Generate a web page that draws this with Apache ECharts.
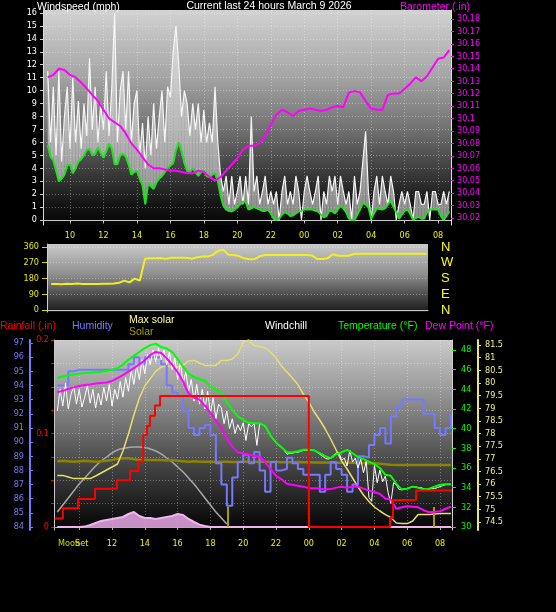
<!DOCTYPE html>
<html><head><meta charset="utf-8">
<script src="https://cdn.jsdelivr.net/npm/echarts@6/dist/echarts.min.js"></script>
<style>html,body{margin:0;padding:0;background:#000;}#c{width:556px;height:612px;}</style>
</head><body><div id="c"></div>
<script>
// ================= DATA =================
// time unit: hours since 00:00 of March 8 (values above 24 are March 9)
const titleText = 'Current last 24 hours March 9 2026';
const seriesStartHour = 8 + 40 / 60;      // first sample 08:40

// windspeed, 10-minute samples (mph)
const windGust = [
 11.5,6.0,10.3,5.0,11.5,4.5, 8.0,10.3,5.5,11.0,6.0,9.2, 5.5,9.0,6.5,12.5,7.0,10.3,
 6.0,9.0,7.0,11.5,6.5,10.3, 16.0,6.0,10.0,11.5,7.0,11.5, 6.0,9.0,10.0,5.0,7.5,4.0,
 8.0,5.0,9.0,5.5,8.0,10.0, 6.0,10.3,9.5,13.0,15.0,12.0, 8.0,10.0,9.0,6.5,9.0,7.0,
 9.0,6.0,8.5,6.0,7.5,6.0, 10.3,6.0,3.4,2.2,3.4,1.2, 3.4,1.2,2.2,3.4,1.2,3.4,
 1.2,8.0,2.2,3.4,1.2,2.2, 3.4,1.2,2.2,1.2,2.2,0, 2.2,3.4,1.2,2.2,1.2,3.4,
 2.2,0,2.2,3.4,2.2,1.2, 2.2,3.4,0,2.2,1.2,3.4, 2.2,3.4,1.2,3.4,2.2,1.2,
 2.2,0,3.4,1.2,2.2,4.5, 6.85,2.2,0,2.2,3.4,1.2, 3.4,2.2,1.2,3.4,2.2,0,
 1.2,2.2,1.2,2.2,1.2,0, 2.2,2.2,1.2,1.2,2.2,0, 2.2,2.2,1.2,1.2,2.2,1.2,
 2.2];
const windAvg = [
 5.8,4.9,4.6,3.8,3.0,3.2, 3.5,4.2,4.3,3.6,4.0,4.5, 4.7,5.0,5.4,5.5,5.0,5.1,
 5.6,5.2,4.8,5.3,5.9,5.5, 4.3,4.3,5.0,5.1,4.9,4.3, 3.5,3.7,3.8,3.2,2.7,1.2,
 2.8,2.6,2.4,2.9,3.2,3.4, 3.7,4.0,4.2,4.4,5.4,6.0, 5.3,4.4,3.8,3.7,4.0,3.7,
 3.4,3.7,3.8,3.4,3.3,3.5, 3.6,3.0,1.9,1.1,0.8,0.7, 0.65,0.8,1.0,1.2,1.4,1.4,
 0.8,0.9,1.0,0.9,0.8,0.7, 0.7,0.8,0.5,0.1,0.0,0.1, 0.4,0.6,0.5,0.3,0.35,0.5,
 0.65,0.7,0.8,0.8,0.8,0.8, 0.7,0.65,0.4,0.2,0.3,0.7, 0.7,0.5,0.8,1.1,0.9,0.6,
 0.1,0.0,0.0,0.4,0.8,1.3, 1.2,1.0,0.1,0.5,0.9,0.85, 0.8,0.9,1.2,1.5,1.0,0.6,
 0.1,0.4,0.7,0.8,0.5,0.0, 0.15,0.25,0.1,0.1,0.6,0.8, 0.8,0.8,0.8,0.3,0.0,0.3,
 0.65];
// barometer, 20-minute samples (inHg)
const barometer = [
 30.133,30.135,30.140,30.139,30.135,30.133,30.129,30.124,30.119,30.114,30.107,30.100,
 30.097,30.094,30.088,30.080,30.075,30.069,30.063,30.060,30.060,30.059,30.058,30.058,
 30.057,30.056,30.056,30.058,30.057,30.053,30.050,30.053,30.058,30.063,30.068,30.075,
 30.078,30.078,30.080,30.086,30.095,30.103,30.107,30.105,30.102,30.106,30.107,30.108,
 30.107,30.106,30.107,30.109,30.110,30.109,30.121,30.122,30.121,30.114,30.108,30.107,
 30.107,30.119,30.120,30.120,30.124,30.128,30.133,30.130,30.134,30.141,30.148,30.149,
 30.155];
// wind direction, 20-minute samples (degrees)
const windDir = [
 149,149,147,150,149,152,148,149,149,149,150,150,152,155,168,158,179,168,
 293,295,295,297,292,299,299,299,299,293,302,305,305,315,338,345,316,314,308,295,290,291,
 307,314,314,314,314,314,314,314,314,314,312,291,291,295,318,310,310,310,320,
 322,322,322,322,322,322,322,322,322,322,322,322,322,322];
// 20-minute samples for the lower panel
const temperature = [
 45.15,45.3,45.4,45.5,45.6,45.65,45.7,45.75,45.8,45.9,46.0,46.15,
 46.5,47.0,47.4,47.8,48.2,48.5,48.65,48.3,48.15,47.8,47.1,46.3,
 45.6,45.25,45.05,44.85,44.25,44.0,43.6,42.7,41.9,41.25,40.9,40.6,
 40.55,40.55,40.3,39.3,38.6,38.1,37.6,37.6,37.7,37.85,37.85,37.8,
 37.5,37.2,37.0,37.4,37.6,37.85,37.5,37.1,36.9,36.65,36.4,36.0,
 35.3,35.2,34.4,33.8,33.9,34.1,34.0,33.8,33.9,34.1,34.3,34.35,
 34.35];
const dewPoint = [
 43.7,43.85,44.05,44.2,44.35,44.45,44.5,44.6,44.65,44.7,44.85,45.15,
 45.45,45.8,46.15,46.55,46.95,47.5,47.8,47.7,47.15,46.5,45.75,44.8,
 43.6,43.15,42.95,42.35,41.6,40.8,40.1,39.0,38.2,37.6,37.5,37.35,
 37.25,37.15,36.6,35.9,35.2,34.85,34.4,34.3,34.2,34.1,33.95,33.95,
 33.9,33.8,33.85,34.0,34.1,34.0,34.1,34.1,33.9,33.7,33.55,33.35,
 32.9,32.8,31.85,32.0,32.1,32.05,32.0,31.7,31.5,31.55,31.6,31.85,
 32.05];
const humidity = [
 94.0,94.0,95.0,95.1,95.1,95.1,95.1,95.1,95.1,95.1,95.1,95.1,
 95.1,95.5,96.0,95.5,96.0,96.0,96.0,95.5,94.0,93.5,93.2,92.2,
 91.0,90.5,91.0,91.2,90.5,88.5,87.0,85.5,87.5,88.6,89.1,88.5,
 89.3,88.0,86.5,88.6,88.0,88.1,88.9,88.5,88.1,87.7,87.7,87.7,
 86.5,87.7,88.6,88.1,87.7,86.5,87.0,89.0,88.9,89.8,90.5,91.0,
 89.9,91.8,92.5,93.0,93.0,93.0,93.0,92.0,92.0,91.0,90.5,91.0,
 92.0];
const maxSolar = [
 258,258,250,242,242,242,242,255,270,285,300,315,
 380,465,560,645,705,742,778,800,805,800,800,808,
 830,833,820,808,808,808,833,833,840,865,925,935,
 908,903,895,875,845,805,775,745,712,665,625,575,
 535,490,440,385,330,290,245,200,160,128,100,80,
 62,48,20,17,17,30,62,62,62,65,67,67,
 67];
const solarLevel = [
 76.9,76.92,76.9,76.88,76.9,76.92,76.9,76.88,76.9,76.92,76.95,77.0,
 77.02,77.02,76.98,76.95,76.95,76.95,76.95,76.95,76.93,76.95,76.92,76.9,
 76.88,76.9,76.88,76.88,76.88,76.87,76.88,76.88,76.87,76.87,76.88,76.88,
 76.87,76.88,76.88,76.87,76.87,76.86,76.86,76.86,76.87,76.86,76.86,76.85,
 76.85,76.85,76.85,76.84,76.84,76.84,76.84,76.83,76.83,76.82,76.82,76.8,
 76.78,76.76,76.75,76.75,76.75,76.75,76.75,76.75,76.75,76.75,76.75,76.75,
 76.75];
const clearSky = [
 75,110,145,180,215,245,275,305,330,350,370,385,393,398,400,400,398,390,380,365,
 345,325,300,275,245,215,180,145,110,75,45,15];
const solarRad = [
 0,0,0,0,0,2,10,20,30,35,40,45,
 50,65,75,55,45,45,40,45,50,55,65,60,
 40,25,12,5,0,0,0,0,0,0,0,0,
 0,0,0,0,0,0,0,0,0,0,0,0,
 0,0,0,0,0,0,0,0,0,0,0,0,
 0,0,0,0,0,0,0,0,0,0,0,0,
 0];
// windchill, 10-minute samples (°F)
const windChill = [
 41.8,44.0,42.3,44.6,42.0,43.5, 44.3,42.5,44.0,42.2,43.2,44.4, 42.6,44.0,42.1,43.6,42.4,44.2,
 42.8,44.5,42.3,44.0,43.0,44.8, 43.2,45.2,43.8,46.0,44.5,46.5, 45.0,47.0,45.6,47.6,46.5,48.0,
 46.8,48.2,47.0,48.0,46.5,47.8, 46.0,47.2,45.0,46.8,44.6,45.8, 43.8,45.0,42.8,44.5,42.5,44.0,
 42.0,43.8,41.5,43.2,41.0,42.5, 42.1,40.5,41.8,40.0,41.0,39.5, 40.4,39.8,40.6,38.8,40.5,40.2,
 40.5,38.3,40.5,40.4,40.2,39.8, 39.3,38.9,38.6,38.3,38.1,37.8, 37.4,37.5,37.5,37.6,37.6,37.7,
 37.8,37.8,37.8,37.8,37.8,37.6, 37.4,37.2,37.0,36.9,37.0,37.3, 37.5,37.6,36.8,37.0,36.2,37.8,
 36.6,37.0,36.0,36.9,35.5,36.7, 33.0,32.6,36.3,34.5,35.8,34.6, 35.2,33.5,32.4,34.5,34.3,33.8,
 33.8,33.9,33.9,34.0,34.1,34.1, 34.0,34.0,33.9,33.8,33.8,33.9, 33.9,34.0,34.1,34.2,34.3,34.35,
 34.35];
// rainfall steps (hours, inches)
const rainHours  = [8.5, 9.0, 9.93, 10.96, 12.3, 13.1, 13.6, 13.9, 14.13, 14.32, 14.62, 14.93, 24.0, 28.95, 29.13, 30.54, 32.73];
const rainValues = [0.009,0.02,0.03,0.041,0.05,0.06,0.07,0.098,0.108,0.119,0.13,0.14, 0, 0.01,0.029,0.039,0.039];
const sunEvents = [19.07, 31.63];

// tick labels
const hourTicks = [10,12,14,16,18,20,22,24,26,28,30,32];
const windTicks = [0,1,2,3,4,5,6,7,8,9,10,11,12,13,14,15,16];
const baroTicks = [30.02,30.03,30.04,30.05,30.06,30.07,30.08,30.09,30.1,30.11,30.12,30.13,30.14,30.15,30.16,30.17,30.18];
const dirTicks = [0,90,180,270,360];
const dirNames = ['N','E','S','W','N'];
const humTicks = [84,85,86,87,88,89,90,91,92,93,94,95,96,97];
const rainTicks = [0,0.1,0.2];
const rainGridTicks = [0,0.025,0.05,0.075,0.1,0.125,0.15,0.175,0.2];
const tempTicks = [30,32,34,36,38,40,42,44,46,48];
const auxTicks = [74.5,75,75.5,76,76.5,77,77.5,78,78.5,79,79.5,80,80.5,81,81.5];

// ================= CHART =================
const NF = "'Liberation Sans Narrow','DejaVu Sans Condensed','Liberation Sans',sans-serif";
const TF = "'Liberation Sans',Arial,sans-serif";
const seq = (step, arr) => arr.map((v, i) => [seriesStartHour + i * step / 60, v]);
const hh = v => { const h = Math.round(v) % 24; return (h < 10 ? '0' : '') + h; };
const grad = stops => ({type:'linear', x:0, y:0, x2:0, y2:1, colorStops: stops.map(s => ({offset:s[0], color:s[1]}))});
const dotted = {show:true, lineStyle:{color:'rgba(255,255,255,0.33)', type:[1,2], width:1}};
const bandData = windAvg.map((a, i) => [seriesStartHour + i / 6, a, windGust[i]]);

const chart = echarts.init(document.getElementById('c'), null, {renderer:'canvas'});

const option = {
  backgroundColor:'#000',
  animation:false,
  grid:[
    {left:43, top:10, width:408, height:215, show:true, borderWidth:0, outerBoundsMode:'none',
     backgroundColor:grad([[0,'#d2d2d2'],[0.3,'#a6a6a6'],[0.55,'#727272'],[0.75,'#3c3c3c'],[0.9,'#161616'],[1,'#050505']])},
    {left:47, top:244, width:381, height:68, show:true, borderWidth:0, outerBoundsMode:'none',
     backgroundColor:grad([[0,'#cacaca'],[0.45,'#8e8e8e'],[0.75,'#4c4c4c'],[1,'#1a1a1a']])},
    {left:54, top:340, width:398, height:190, show:true, borderWidth:0, outerBoundsMode:'none',
     backgroundColor:grad([[0,'#cacaca'],[0.22,'#a2a2a2'],[0.47,'#6e6e6e'],[0.68,'#404040'],[0.87,'#1c1c1c'],[1,'#020202']])}
  ],
  xAxis:[
    {gridIndex:0, type:'value', min:8.386, max:32.77,
     axisLine:{show:true, lineStyle:{color:'#c8c8c8'}},
     axisTick:{show:true, customValues:hourTicks, length:3, lineStyle:{color:'#c8c8c8'}},
     axisLabel:{customValues:hourTicks, formatter:hh, color:'#f0f000', fontSize:9, fontFamily:NF, margin:6},
     splitLine:dotted},
    {gridIndex:1, type:'value', min:8.4, max:32.75,
     axisLine:{show:true, lineStyle:{color:'#c8c8c8'}}, axisTick:{show:false}, axisLabel:{show:false}, splitLine:{show:false}},
    {gridIndex:2, type:'value', min:8.463, max:32.73,
     axisLine:{show:true, lineStyle:{color:'#b0b0b0'}},
     axisTick:{show:true, customValues:hourTicks, length:3, lineStyle:{color:'#b0b0b0'}},
     axisLabel:{customValues:hourTicks.slice(1), formatter:hh, color:'#f0f000', fontSize:9, fontFamily:NF, margin:9},
     splitLine:dotted}
  ],
  yAxis:[
    {gridIndex:0, type:'value', position:'left', min:-0.39, max:16.23,
     axisLine:{show:true, lineStyle:{color:'#d8d8d8'}},
     axisTick:{show:true, customValues:windTicks, length:3, lineStyle:{color:'#d0d0d0'}},
     axisLabel:{customValues:windTicks, color:'#ffffff', fontSize:9, fontFamily:NF, margin:6},
     splitLine:dotted},
    {gridIndex:0, type:'value', position:'right', min:30.0144, max:30.1872,
     axisLine:{show:true, lineStyle:{color:'#e0e0e0'}},
     axisTick:{show:true, customValues:baroTicks, length:3, lineStyle:{color:'#ff00ff'}},
     axisLabel:{customValues:baroTicks, formatter:v => String(parseFloat(v.toFixed(2))), color:'#ff00ff', fontSize:9, fontFamily:NF, margin:6},
     splitLine:{show:false}},
    {gridIndex:1, type:'value', position:'left', min:-11.4, max:377,
     axisLine:{show:true, lineStyle:{color:'#d0d0d0'}},
     axisTick:{show:true, customValues:dirTicks, length:5, lineStyle:{color:'#d8d800'}},
     axisLabel:{customValues:dirTicks, color:'#e8e800', fontSize:9, fontFamily:NF, margin:8},
     splitLine:dotted},
    {gridIndex:1, type:'value', position:'right', min:-11.4, max:377,
     axisLine:{show:false}, axisTick:{show:false},
     axisLabel:{customValues:dirTicks, formatter:v => dirNames[dirTicks.indexOf(v)], color:'#ffff00', fontSize:13, fontFamily:TF, margin:13},
     splitLine:{show:false}},
    {gridIndex:2, type:'value', position:'left', offset:24, min:83.79, max:97.21,
     axisLine:{show:true, lineStyle:{color:'#7878ff', width:2}},
     axisTick:{show:true, inside:true, customValues:humTicks, length:3, lineStyle:{color:'#7878ff'}},
     axisLabel:{customValues:humTicks, color:'#7878ff', fontSize:9, fontFamily:NF, margin:6},
     splitLine:{show:false}},
    {gridIndex:2, type:'value', position:'left', min:-0.0032, max:0.2,
     axisLine:{show:true, lineStyle:{color:'#c8c8c8'}},
     axisTick:{show:true, customValues:rainGridTicks, length:3, lineStyle:{color:'#ff0000'}},
     axisLabel:{customValues:rainTicks, color:'#ff0000', fontSize:9, fontFamily:NF, margin:5},
     splitLine:dotted},
    {gridIndex:2, type:'value', position:'right', min:29.69, max:49.02,
     axisLine:{show:true, lineStyle:{color:'#d0d0d0'}},
     axisTick:{show:true, customValues:tempTicks, length:4, lineStyle:{color:'#00ff00'}},
     axisLabel:{customValues:tempTicks, color:'#00ff00', fontSize:9, fontFamily:NF, margin:9},
     splitLine:{show:false}},
    {gridIndex:2, type:'value', position:'right', offset:26, min:74.18, max:81.70,
     axisLine:{show:true, lineStyle:{color:'#e8e870', width:2}},
     axisTick:{show:true, customValues:auxTicks, length:3, lineStyle:{color:'#e8e870'}},
     axisLabel:{customValues:auxTicks, color:'#f0f090', fontSize:9, fontFamily:NF, margin:7},
     splitLine:{show:false}},
    {gridIndex:2, type:'value', min:-15, max:935, show:false}
  ],
  series:[
    {type:'custom', xAxisIndex:0, yAxisIndex:0, z:1, silent:true, data:bandData,
     encode:{x:0, y:[1, 2]},
     renderItem:(params, api) => {
       const i = params.dataIndex;
       if (i >= bandData.length - 1) return null;
       const n = bandData[i + 1];
       const pts = [api.coord([api.value(0), api.value(1)]), api.coord([n[0], n[1]]),
                    api.coord([n[0], n[2]]), api.coord([api.value(0), api.value(2)])];
       return {type:'polygon', shape:{points:pts}, style:{fill:'rgba(232,232,232,0.6)'}};
     }},
    {type:'line', xAxisIndex:0, yAxisIndex:0, data:seq(10, windGust), showSymbol:false, z:2,
     lineStyle:{color:'#f6f6f6', width:1.2}},
    {type:'line', xAxisIndex:0, yAxisIndex:0, data:seq(10, windAvg), showSymbol:false, z:3,
     lineStyle:{color:'#20e020', width:2}},
    {type:'line', xAxisIndex:0, yAxisIndex:1, data:seq(20, barometer), showSymbol:false, z:4,
     lineStyle:{color:'#ff00ff', width:2}},
    {type:'line', xAxisIndex:1, yAxisIndex:2, data:seq(20, windDir), showSymbol:false, z:3,
     lineStyle:{color:'#f0f020', width:2}},
    {type:'line', xAxisIndex:2, yAxisIndex:8, data:seq(20, solarRad), showSymbol:false, z:1,
     lineStyle:{color:'#f0b4ee', width:2}, areaStyle:{color:'#dca0da', opacity:0.9}},
    {type:'line', xAxisIndex:2, yAxisIndex:8, data:seq(20, clearSky), showSymbol:false, z:2, smooth:true,
     lineStyle:{color:'#a8a8a8', width:1.5}},
    {type:'line', xAxisIndex:2, yAxisIndex:7, data:seq(20, solarLevel), showSymbol:false, z:2,
     lineStyle:{color:'#8c8400', width:2.5}},
    {type:'line', xAxisIndex:2, yAxisIndex:8, data:seq(20, maxSolar), showSymbol:false, z:3,
     lineStyle:{color:'#e6df6e', width:1.5},
     markLine:{symbol:'none', silent:true, label:{show:false}, lineStyle:{color:'#a89c00', width:2, type:'solid'},
       data: sunEvents.map(t => [{coord:[t, 0]}, {coord:[t, 100]}])}},
    {type:'line', xAxisIndex:2, yAxisIndex:4, data:seq(20, humidity), step:'end', showSymbol:false, z:4,
     lineStyle:{color:'#7878ff', width:2}},
    {type:'line', xAxisIndex:2, yAxisIndex:6, data:seq(10, windChill), showSymbol:false, z:5,
     lineStyle:{color:'#ffffff', width:1}},
    {type:'line', xAxisIndex:2, yAxisIndex:6, data:seq(20, dewPoint), showSymbol:false, z:6,
     lineStyle:{color:'#ff00ff', width:2}},
    {type:'line', xAxisIndex:2, yAxisIndex:6, data:seq(20, temperature), showSymbol:false, z:7,
     lineStyle:{color:'#00ff00', width:2}},
    {type:'line', xAxisIndex:2, yAxisIndex:5, data:rainHours.map((t, i) => [t, rainValues[i]]), step:'end', showSymbol:false, z:8,
     lineStyle:{color:'#ff0000', width:2}}
  ],
  graphic:[
    {type:'text', x:37, y:7, style:{text:'Windspeed (mph)', fill:'#ffffff', font:'10.5px ' + TF, textVerticalAlign:'middle', verticalAlign:'middle'}},
    {type:'text', x:269, y:6, style:{text:titleText, fill:'#ffffff', font:'10.5px ' + TF, textAlign:'center', align:'center', textVerticalAlign:'middle', verticalAlign:'middle'}},
    {type:'text', x:400, y:7, style:{text:'Barometer (.in)', fill:'#ff00ff', font:'10.5px ' + TF, textVerticalAlign:'middle', verticalAlign:'middle'}},
    {type:'text', x:0, y:326, style:{text:'Rainfall (.in)', fill:'#ff0000', font:'10.5px ' + TF, textVerticalAlign:'middle', verticalAlign:'middle'}},
    {type:'text', x:72, y:326, style:{text:'Humidity', fill:'#7878ff', font:'10.5px ' + TF, textVerticalAlign:'middle', verticalAlign:'middle'}},
    {type:'text', x:129, y:320, style:{text:'Max solar', fill:'#ffff90', font:'10.5px ' + TF, textVerticalAlign:'middle', verticalAlign:'middle'}},
    {type:'text', x:129, y:332, style:{text:'Solar', fill:'#a89c00', font:'10.5px ' + TF, textVerticalAlign:'middle', verticalAlign:'middle'}},
    {type:'text', x:265, y:326, style:{text:'Windchill', fill:'#ffffff', font:'10.5px ' + TF, textVerticalAlign:'middle', verticalAlign:'middle'}},
    {type:'text', x:338, y:326, style:{text:'Temperature (°F)', fill:'#00ff00', font:'10.5px ' + TF, textVerticalAlign:'middle', verticalAlign:'middle'}},
    {type:'text', x:425, y:326, style:{text:'Dew Point (°F)', fill:'#ff00ff', font:'10.5px ' + TF, textVerticalAlign:'middle', verticalAlign:'middle'}},
    {type:'text', x:58, y:544, style:{text:'Moon', fill:'#c8dc10', font:'9px ' + NF, textVerticalAlign:'middle', verticalAlign:'middle'}},
    {type:'text', x:75, y:544, style:{text:'Set', fill:'#f0f000', font:'9px ' + NF, textVerticalAlign:'middle', verticalAlign:'middle'}}
  ]
};
chart.setOption(option);
</script>
</body></html>
